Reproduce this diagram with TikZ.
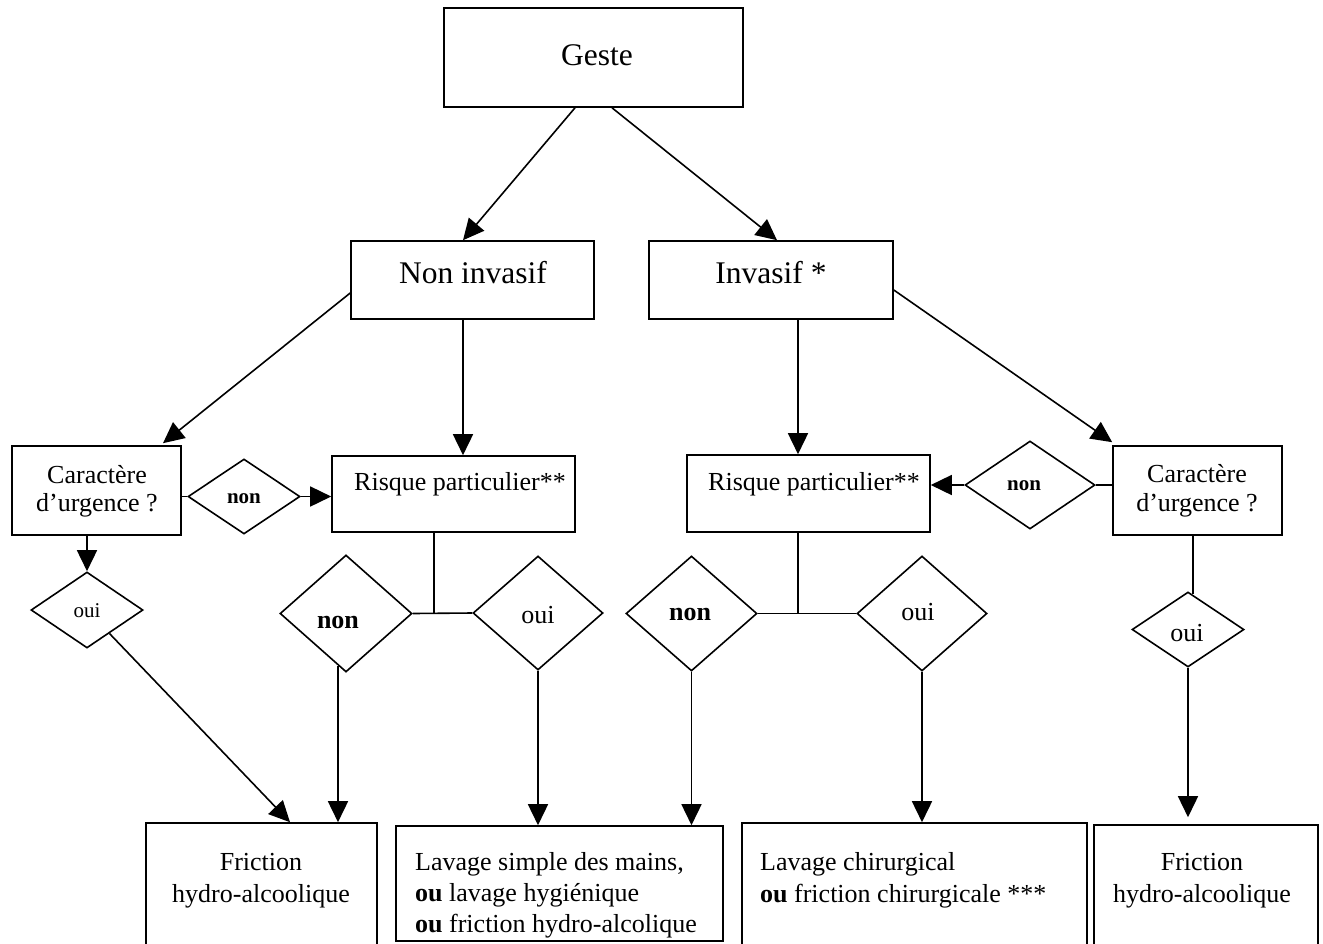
\documentclass[tikz,border=0pt]{standalone}
\usepackage{fontspec}
\setmainfont{Liberation Serif}
\usetikzlibrary{shapes.geometric,arrows.meta,calc}
\tikzset{
  box/.style={draw, line width=1.6pt, inner sep=0pt, rectangle},
  dia/.style={draw, line width=1.6pt, inner sep=0pt, shape=diamond},
  conn/.style={line width=1.6pt},
  arr/.style={line width=1.6pt, -{Triangle[length=21pt,width=20pt]}},
  txt/.style={inner sep=0pt, anchor=base},
  txtl/.style={inner sep=0pt, anchor=base west},
  big/.style={font=\fontsize{31.5}{36}\selectfont},
  mid/.style={font=\fontsize{26}{30}\selectfont},
  sml/.style={font=\fontsize{21}{24}\selectfont},
}
\begin{document}
\begin{tikzpicture}[x=1pt,y=-1pt]
\useasboundingbox (0,0) rectangle (1323,943);
\clip (0,0) rectangle (1323,943);
% boxes
\node[box, minimum width=299pt, minimum height=99pt] (geste) at (593.5,57.5) {};
\node[box, minimum width=243pt, minimum height=78pt] (noninv) at (472.5,280) {};
\node[box, minimum width=244pt, minimum height=78pt] (inv) at (771,280) {};
\node[box, minimum width=169pt, minimum height=89pt] (carL) at (96.5,490.5) {};
\node[box, minimum width=243pt, minimum height=76pt] (risL) at (453.5,494) {};
\node[box, minimum width=243pt, minimum height=77pt] (risR) at (808.5,493.5) {};
\node[box, minimum width=169pt, minimum height=89pt] (carR) at (1197.5,490.5) {};
\node[box, minimum width=231pt, minimum height=137pt] (fricL) at (261.5,891.5) {};
\node[box, minimum width=327pt, minimum height=115pt] (lav) at (559.5,883.5) {};
\node[box, minimum width=345pt, minimum height=137pt] (chir) at (914.5,891.5) {};
\node[box, minimum width=224pt, minimum height=135pt] (fricR) at (1206,892.5) {};
% diamonds
\node[dia, minimum width=112pt, minimum height=75pt] (dnonL) at (244,496.5) {};
\node[dia, minimum width=112pt, minimum height=76pt] (douiL) at (87,610) {};
\node[dia, minimum width=132pt, minimum height=117pt] (dnon1) at (346,613.5) {};
\node[dia, minimum width=130pt, minimum height=114pt] (doui1) at (538,613) {};
\node[dia, minimum width=131pt, minimum height=115pt] (dnon2) at (691.5,613.5) {};
\node[dia, minimum width=130pt, minimum height=115pt] (doui2) at (922,613.5) {};
\node[dia, minimum width=130pt, minimum height=88pt] (dnonR) at (1030,485) {};
\node[dia, minimum width=112pt, minimum height=75pt] (douiR) at (1188,629.5) {};
% helper coordinates
\coordinate (n1start) at ([shift={(-8,-7)}]dnon1.south);
\coordinate (n1end) at (n1start |- fricL.north);
\coordinate (oRend) at ([shift={(0,-7)}]douiR.south |- fricR.north);
% texts
\node[txt,big] (tgeste) at (597,65) {Geste};
\node[txt,big] (tnoninv) at (473,283) {Non invasif};
\node[txt,big] (tinv) at (771,283) {Invasif *};
\node[txt,mid] (tcarL1) at (97,483) {Caractère};
\node[txt,mid] (tcarL2) at (97,511) {d’urgence ?};
\node[txt,mid] (tcarR1) at (1197,482) {Caractère};
\node[txt,mid] (tcarR2) at (1197,511) {d’urgence ?};
\node[txtl,mid] (trisL) at (354,490) {Risque particulier**};
\node[txtl,mid] (trisR) at (708,490) {Risque particulier**};
\node[txt,sml] (tdnonL) at (244,503) {\textbf{non}};
\node[txt,sml] (tdouiL) at (87,617) {oui};
\node[txt,mid] (tdnon1) at (338,628) {\textbf{non}};
\node[txt,mid] (tdoui1) at (538,623) {oui};
\node[txt,mid] (tdnon2) at (690,620) {\textbf{non}};
\node[txt,mid] (tdoui2) at (918,620) {oui};
\node[txt,sml] (tdnonR) at (1024,490) {\textbf{non}};
\node[txt,mid] (tdouiR) at (1187,641) {oui};
\node[txt,mid] (tfricL1) at (261,870) {Friction};
\node[txt,mid] (tfricL2) at (261,902) {hydro-alcoolique};
\node[txt,mid] (tfricR1) at (1202,870) {Friction};
\node[txt,mid] (tfricR2) at (1202,902) {hydro-alcoolique};
\node[txtl,mid] (tlav1) at (415,870) {Lavage simple des mains,};
\node[txtl,mid] (tlav2) at (415,901) {\textbf{ou} lavage hygiénique};
\node[txtl,mid] (tlav3) at (415,932) {\textbf{ou} friction hydro-alcolique};
\node[txtl,mid] (tchir1) at (760,870) {Lavage chirurgical};
\node[txtl,mid] (tchir2) at (760,902) {\textbf{ou} friction chirurgicale ***};
% connectors
\draw[arr] ([shift={(-18.5,0)}]geste.south) -- ([shift={(-9.5,0)}]noninv.north);
\draw[arr] ([shift={(18.5,0)}]geste.south) -- ([shift={(6,0)}]inv.north);
\draw[arr] ([shift={(0,13)}]noninv.west) -- ([shift={(66.5,-2)}]carL.north);
\draw[arr] ([shift={(-9.5,0)}]noninv.south) -- ([shift={(9.5,0)}]risL.north);
\draw[arr] ([shift={(27,0)}]inv.south) -- ([shift={(-10.5,0)}]risR.north);
\draw[arr] ([shift={(0,10)}]inv.east) -- ([shift={(0,-3)}]carR.north west);
\draw[conn] (carL.east |- dnonL.west) -- (dnonL.west);
\draw[arr] (dnonL.east) -- (risL.west |- dnonL.east);
\draw[arr] (douiL.north |- carL.south) -- (douiL.north);
\draw[arr] (douiL) -- ([shift={(28.5,0)}]fricL.north);
\draw[arr] (n1start) -- (n1end);
\draw[conn] (dnon1.east) -- (doui1.west);
\draw[conn] ([shift={(-19.5,0)}]risL.south) -- ([shift={(-19.5,0)}]risL.south |- dnon1.east);
\draw[arr] (doui1.south) -- (doui1.south |- lav.north);
\draw[arr] (dnon2.south) -- (dnon2.south |- lav.north);
\draw[conn] (dnon2.east) -- (doui2.west);
\draw[conn] ([shift={(-10.5,0)}]risR.south) -- ([shift={(-10.5,0)}]risR.south |- dnon2.east);
\draw[arr] (doui2.south) -- (doui2.south |- chir.north);
\draw[conn] (carR.west |- dnonR.east) -- (dnonR.east);
\draw[arr] (dnonR.west) -- (risR.east |- dnonR.west);
\draw[conn] ([shift={(-4.5,0)}]carR.south) -- ([shift={(-4.5,3)}]carR.south |- douiR.north);
\draw[arr] (douiR.south) -- (oRend);
\end{tikzpicture}
\end{document}
